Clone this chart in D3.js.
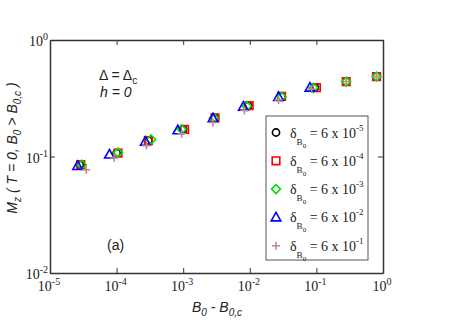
<!DOCTYPE html>
<html>
<head>
<meta charset="utf-8">
<script src="https://cdn.jsdelivr.net/npm/d3@7"></script>
<style>
  body { margin: 0; background: #fff; }
  svg { display: block; }
  .serif { font-family: "Liberation Serif", "DejaVu Serif", "Times New Roman", serif; }
  .sans { font-family: "Liberation Sans", Arial, sans-serif; }
</style>
</head>
<body>
<svg id="chart"></svg>
<script>
// series data: [B0 - B0c, Mz]
const circleData = [[2.8e-5, 0.085], [1.0e-4, 0.107], [3.0e-4, 0.137], [1.0e-3, 0.171], [3.0e-3, 0.214], [9.5e-3, 0.272], [3.0e-2, 0.326], [9.5e-2, 0.39], [2.8e-1, 0.44], [0.8, 0.485]];
const squareData = [[2.9e-5, 0.085], [1.05e-4, 0.107], [3.0e-4, 0.137], [1.05e-3, 0.171], [3.0e-3, 0.215], [9.8e-3, 0.273], [3.0e-2, 0.328], [1.0e-1, 0.39], [2.8e-1, 0.44], [0.8, 0.485]];
const diamondData = [[3.0e-5, 0.085], [1.05e-4, 0.108], [3.3e-4, 0.14], [9.5e-4, 0.171], [2.9e-3, 0.214], [9.0e-3, 0.27], [3.0e-2, 0.326], [9.0e-2, 0.388], [2.8e-1, 0.44], [0.8, 0.485]];
const triangleData = [[2.6e-5, 0.083], [7.8e-5, 0.104], [2.7e-4, 0.134], [8.3e-4, 0.168], [2.8e-3, 0.213], [8.0e-3, 0.268], [2.7e-2, 0.325], [8.0e-2, 0.39]];
const plusData = [[3.5e-5, 0.077], [9.2e-5, 0.097], [2.8e-4, 0.124], [9.5e-4, 0.157], [2.8e-3, 0.196], [8.3e-3, 0.248], [2.7e-2, 0.306], [8.5e-2, 0.38], [2.8e-1, 0.44], [0.8, 0.485]];

const seriesNames = ["circle", "square", "diamond", "triangle", "plus"];
const seriesColors = ["#000000", "#ff0000", "#00e000", "#0000ff", "#c48a8a"];
const legendExponents = ["-5", "-4", "-3", "-2", "-1"];

const xTickExps = [-5, -4, -3, -2, -1, 0];
const yTickExps = [-2, -1, 0];

const width = 457;
const height = 323;
const margin = { top: 40, right: 74, bottom: 50, left: 50 };

const svg = d3.select("#chart").attr("width", width).attr("height", height);

const x = d3.scaleLog().domain([1e-5, 1]).range([margin.left, width - margin.right]);
const y = d3.scaleLog().domain([1e-2, 1]).range([height - margin.bottom, margin.top]);

const frameColor = "#333";

// axes with inward ticks on all four sides
const xTicks = xTickExps.map((e) => Math.pow(10, e));
const yTicks = yTickExps.map((e) => Math.pow(10, e));

function styleAxis(g) {
  g.selectAll("path").attr("stroke", frameColor).attr("stroke-width", 1.5);
  g.selectAll(".tick line").attr("stroke", frameColor).attr("stroke-width", 1);
  g.selectAll(".tick text").remove();
}

svg.append("g")
  .attr("transform", `translate(0,${y.range()[0]})`)
  .call(d3.axisBottom(x).tickValues(xTicks).tickSizeInner(-5).tickSizeOuter(0))
  .call(styleAxis);
svg.append("g")
  .attr("transform", `translate(0,${y.range()[1]})`)
  .call(d3.axisTop(x).tickValues(xTicks).tickSizeInner(-5).tickSizeOuter(0))
  .call(styleAxis);
svg.append("g")
  .attr("transform", `translate(${x.range()[0]},0)`)
  .call(d3.axisLeft(y).tickValues(yTicks).tickSizeInner(-5).tickSizeOuter(0))
  .call(styleAxis);
svg.append("g")
  .attr("transform", `translate(${x.range()[1]},0)`)
  .call(d3.axisRight(y).tickValues(yTicks).tickSizeInner(-5).tickSizeOuter(0))
  .call(styleAxis);

// tick labels: 10 with superscript exponent
function powerLabel(sel, e) {
  sel.append("tspan").text("10");
  sel.append("tspan").attr("dy", -6).style("font-size", "10px").text(e);
}

xTickExps.forEach((e) => {
  svg.append("text")
    .attr("class", "serif")
    .attr("x", x(Math.pow(10, e)) - 1)
    .attr("y", y.range()[0] + 18)
    .attr("text-anchor", "middle")
    .style("font-size", "14px")
    .attr("fill", "#222")
    .call(powerLabel, e);
});

yTickExps.forEach((e) => {
  svg.append("text")
    .attr("class", "serif")
    .attr("x", x.range()[0] - 2)
    .attr("y", y(Math.pow(10, e)) + 6)
    .attr("text-anchor", "end")
    .style("font-size", "14px")
    .attr("fill", "#222")
    .call(powerLabel, e);
});

// marker shapes
function markerPath(name) {
  switch (name) {
    case "circle": return d3.symbol().type(d3.symbolCircle).size(Math.PI * 3.6 * 3.6)();
    case "square": return "M-3.8,-3.8H3.8V3.8H-3.8Z";
    case "diamond": return "M0,-4.5L4.5,0L0,4.5L-4.5,0Z";
    case "triangle": return "M0,-5L4.8,3.5L-4.8,3.5Z";
    case "plus": return "M-4,0H4M0,-4V4";
  }
}

const allData = [circleData, squareData, diamondData, triangleData, plusData];

allData.forEach((data, i) => {
  svg.append("g")
    .selectAll("path")
    .data(data)
    .enter()
    .append("path")
    .attr("transform", (d) => `translate(${x(d[0])},${y(d[1])})`)
    .attr("d", markerPath(seriesNames[i]))
    .attr("fill", "none")
    .attr("stroke", seriesColors[i])
    .attr("stroke-width", 1.6);
});

// legend
const legend = svg.append("g").attr("transform", "translate(266,116)");
legend.append("rect")
  .attr("width", 102)
  .attr("height", 144)
  .attr("fill", "#fff")
  .attr("stroke", "#555")
  .attr("stroke-width", 1);

seriesNames.forEach((name, i) => {
  const ly = 16.5 + i * 28.3;
  legend.append("path")
    .attr("transform", `translate(10,${ly})`)
    .attr("d", markerPath(name))
    .attr("fill", "none")
    .attr("stroke", seriesColors[i])
    .attr("stroke-width", 1.6);
  const t = legend.append("text")
    .attr("class", "serif")
    .attr("x", 24)
    .attr("y", ly + 5)
    .style("font-size", "14px")
    .attr("fill", "#222");
  t.append("tspan").text("δ");
  t.append("tspan").attr("dy", 7).style("font-size", "9px").text("B");
  t.append("tspan").attr("dy", 3).style("font-size", "7px").text("0");
  t.append("tspan").attr("dy", -10).text(" = 6 x 10");
  t.append("tspan").attr("dy", -7).style("font-size", "9px").text(legendExponents[i]);
});

// annotations
const ann1 = svg.append("text")
  .attr("class", "sans")
  .attr("x", 99)
  .attr("y", 80)
  .style("font-size", "14px")
  .attr("fill", "#222");
ann1.append("tspan").text("Δ = Δ");
ann1.append("tspan").attr("dy", 4).style("font-size", "10px").text("c");

svg.append("text")
  .attr("class", "sans")
  .attr("x", 100)
  .attr("y", 97)
  .style("font-size", "14px")
  .style("font-style", "italic")
  .attr("fill", "#222")
  .text("h = 0");

svg.append("text")
  .attr("class", "sans")
  .attr("x", 107)
  .attr("y", 250)
  .style("font-size", "14px")
  .attr("fill", "#222")
  .text("(a)");

// x-axis label
const xl = svg.append("text")
  .attr("class", "sans")
  .attr("x", 217)
  .attr("y", 312)
  .attr("text-anchor", "middle")
  .style("font-size", "14px")
  .style("font-style", "italic")
  .attr("fill", "#222");
xl.append("tspan").text("B");
xl.append("tspan").attr("dy", 4).style("font-size", "10px").text("0");
xl.append("tspan").attr("dy", -4).text(" - B");
xl.append("tspan").attr("dy", 4).style("font-size", "10px").text("0,c");

// y-axis label
const yl = svg.append("text")
  .attr("class", "sans")
  .attr("transform", "translate(17,148) rotate(-90)")
  .attr("text-anchor", "middle")
  .style("font-size", "14px")
  .style("font-style", "italic")
  .attr("fill", "#222");
yl.append("tspan").text("M");
yl.append("tspan").attr("dy", 4).style("font-size", "10px").text("z");
yl.append("tspan").attr("dy", -4).text(" ( T = 0,  B");
yl.append("tspan").attr("dy", 4).style("font-size", "10px").text("0");
yl.append("tspan").attr("dy", -4).text(" > B");
yl.append("tspan").attr("dy", 4).style("font-size", "10px").text("0,c");
yl.append("tspan").attr("dy", -4).text(" )");
</script>
</body>
</html>
